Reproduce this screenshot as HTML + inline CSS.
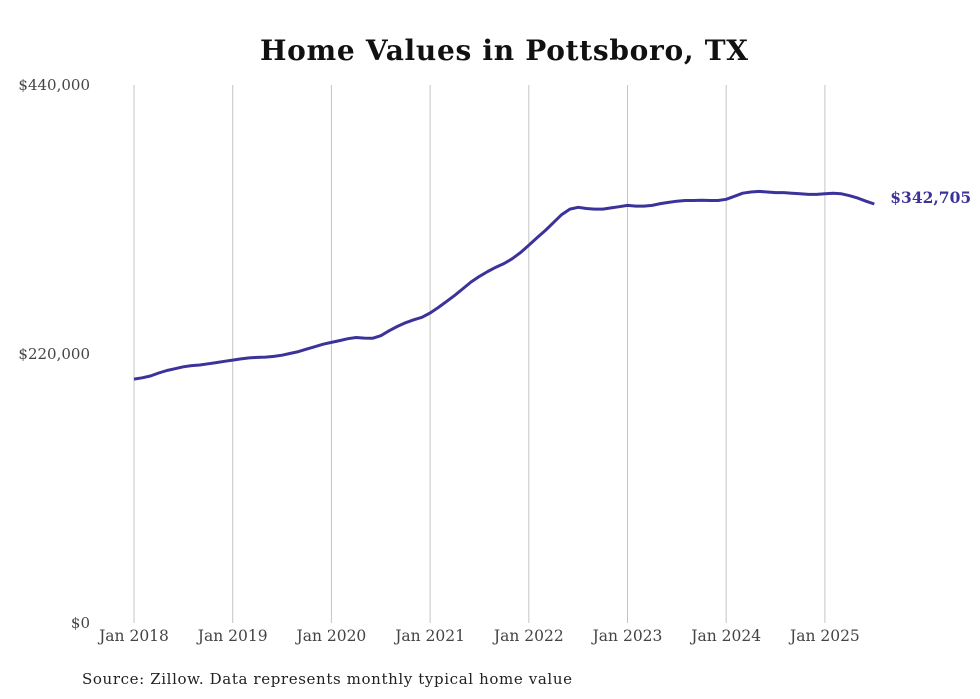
<!DOCTYPE html>
<html><head><meta charset="utf-8"><style>
body{margin:0;background:#fff;width:980px;height:699px;overflow:hidden}
svg{display:block}
text{font-family:"DejaVu Serif","Liberation Serif",serif}
</style></head><body>
<svg id="chart" width="980" height="699">
<text x="504" y="60" text-anchor="middle" font-size="28" font-weight="bold" fill="#111" textLength="488">Home Values in Pottsboro, TX</text>
<g id="grid"></g><g id="yticks"></g><g id="xticks"></g>
<path id="line" fill="none" stroke="#3b3399" stroke-width="3" stroke-linejoin="round"></path>
<text id="endlabel" font-size="15.5" font-weight="bold" fill="#3b3399"></text>
<text x="82" y="684" font-size="15" fill="#222" textLength="490">Source: Zillow. Data represents monthly typical home value</text>
</svg>
<script>
const xTickLabels=["Jan 2018","Jan 2019","Jan 2020","Jan 2021","Jan 2022","Jan 2023","Jan 2024","Jan 2025"];
const yTickValues=[0,220000,440000];
const yTickLabels=["$0","$220,000","$440,000"];
const startYear=2018;
const values=[
199500,200500,202000,204500,206500,208000,209500,210500,211000,212000,213000,214000,
215000,216000,216800,217200,217500,218000,219000,220500,222000,224000,226000,228000,
229500,231000,232500,233500,233000,232800,235000,239000,242500,245500,248000,250000,
253500,258000,263000,268000,273500,279000,283500,287500,291000,294000,298000,303000,
309000,315000,321000,327500,334000,338500,340000,339000,338500,338500,339500,340500,
341500,341000,341000,341500,343000,344000,345000,345500,345500,345800,345500,345500,
346500,349000,351500,352500,353000,352500,352000,352000,351500,351000,350500,350500,
351000,351500,351000,349500,347500,345000,342705
];
const ns="http://www.w3.org/2000/svg";
const X0=134,YR=98.7,Y0=623,YS=538/440000;
const xScale=m=>X0+m/12*YR;
const yScale=v=>Y0-v*YS;
const grid=document.getElementById('grid'),xt=document.getElementById('xticks'),yt=document.getElementById('yticks');
xTickLabels.forEach((lab,i)=>{
 const x=xScale(i*12);
 const l=document.createElementNS(ns,'line');
 l.setAttribute('x1',x);l.setAttribute('x2',x);l.setAttribute('y1',85);l.setAttribute('y2',623);
 l.setAttribute('stroke','#c4c4c4');l.setAttribute('stroke-width','1');
 
 
 grid.appendChild(l);
 const t=document.createElementNS(ns,'text');
 t.setAttribute('x',x);t.setAttribute('y',641);t.setAttribute('text-anchor','middle');
 t.setAttribute('font-size','15.5');t.setAttribute('fill','#444');
 t.textContent=lab;
 
 
 xt.appendChild(t);
});
yTickValues.forEach((v,i)=>{
 const t=document.createElementNS(ns,'text');
 t.setAttribute('x',90);t.setAttribute('y',yScale(v)+5);t.setAttribute('text-anchor','end');
 t.setAttribute('font-size','15');t.setAttribute('fill','#444');
 t.textContent=yTickLabels[i];
 
 
 yt.appendChild(t);
});
let d='';
values.forEach((v,i)=>{d+=(i?'L':'M')+xScale(i).toFixed(1)+','+yScale(v).toFixed(1);});
document.getElementById('line').setAttribute('d',d);
const last=values.length-1,el=document.getElementById('endlabel');
el.setAttribute('x',xScale(last)+16);el.setAttribute('y',yScale(values[last])-1);
el.textContent='$'+values[last].toLocaleString('en-US');
</script>
</body></html>
